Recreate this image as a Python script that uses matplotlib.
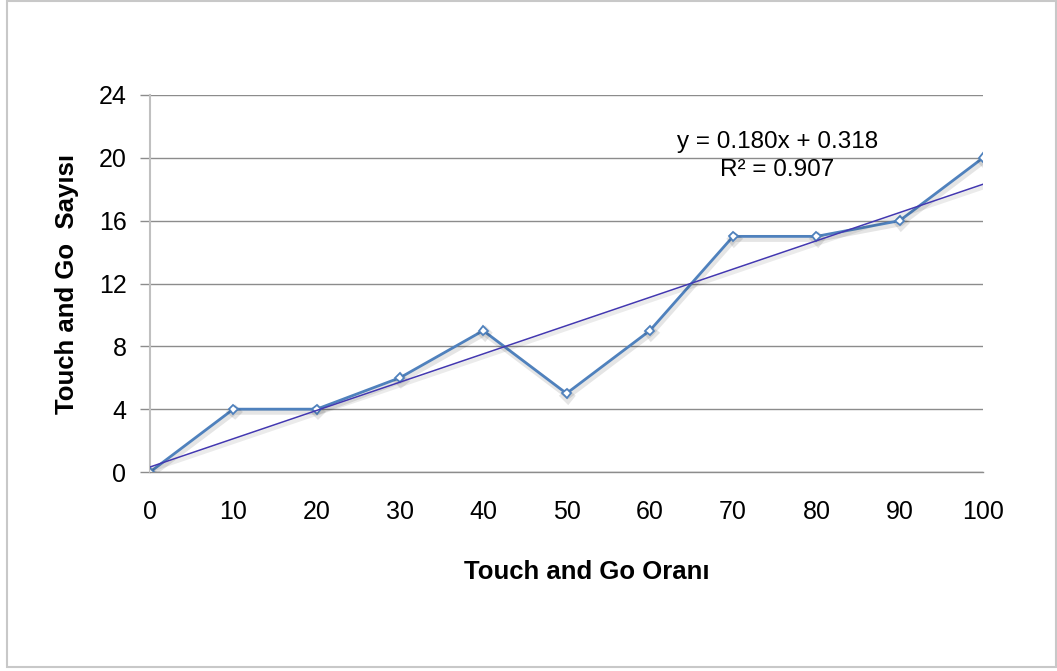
import matplotlib
matplotlib.use("Agg")
import matplotlib.pyplot as plt
import matplotlib.patheffects as pe
from matplotlib.patches import Rectangle
import numpy as np

# Touch-and-go ratio vs. count
ratio = [0, 10, 20, 30, 40, 50, 60, 70, 80, 90, 100]
count = [0, 4, 4, 6, 9, 5, 9, 15, 15, 16, 20]
x_ticks = [0, 10, 20, 30, 40, 50, 60, 70, 80, 90, 100]
y_ticks = [0, 4, 8, 12, 16, 20, 24]

# Linear trend as stated in the equation label
slope = 0.180
intercept = 0.318
r_squared = 0.907

plt.rcParams['font.family'] = ['Liberation Sans', 'DejaVu Sans']

fig = plt.figure(figsize=(10.57, 6.71), dpi=100)
ax = fig.add_axes([150 / 1057, 1 - 472 / 671, 833 / 1057, 377 / 671])

# outer chart frame
fig.patches.append(Rectangle((7 / 1057, 4 / 671), 1049 / 1057, 666 / 671,
                             transform=fig.transFigure, fill=False,
                             edgecolor='#c8c8c8', linewidth=1.5, zorder=0))

soft_shadow = [pe.SimpleLineShadow(offset=(1.0, -2.0), alpha=0.10, linewidth=4), pe.Normal()]

ax.plot(ratio, count, color='#4f81bd', linewidth=2, marker='D', markersize=4.5,
        markerfacecolor='white', markeredgecolor='#4f81bd', markeredgewidth=1.3,
        zorder=3, path_effects=soft_shadow)

xt = np.array([ratio[0], ratio[-1]])
ax.plot(xt, slope * xt + intercept, color='#4338b0', linewidth=1.1, zorder=4,
        path_effects=[pe.SimpleLineShadow(offset=(1.0, -2.0), alpha=0.08, linewidth=3), pe.Normal()])

ax.text(75.3, 21.0, f"y = {slope:.3f}x + {intercept:.3f}", ha='center', va='center', fontsize=17.5)
ax.text(75.3, 19.2, f"R² = {r_squared:.3f}", ha='center', va='center', fontsize=17.5)

ax.set_xlim(0, 100)
ax.set_ylim(0, 24)
ax.set_xticks(x_ticks)
ax.set_yticks(y_ticks)
ax.tick_params(axis='x', length=0, pad=20, labelsize=18)
ax.tick_params(axis='y', length=7, width=1, color='#8c8c8c', pad=10, labelsize=18)
ax.yaxis.grid(True, color='#8c8c8c', linewidth=1)
ax.set_axisbelow(True)
for s in ['top', 'right']:
    ax.spines[s].set_visible(False)
ax.spines['left'].set_color('#c0c0c0')
ax.spines['left'].set_linewidth(1.5)
ax.spines['bottom'].set_color('#8c8c8c')
ax.spines['bottom'].set_linewidth(1)

ax.set_xlabel("Touch and Go Oranı", fontsize=18.5, fontweight='bold', labelpad=28)
ax.xaxis.set_label_coords((587 - 150) / 833, -(572 - 472) / 377, transform=ax.transAxes)
ax.xaxis.label.set_va('center')
ax.set_ylabel("Touch and Go  Sayısı", fontsize=18.5, fontweight='bold')
ax.yaxis.set_label_coords(-(150 - 67) / 833, 0.5, transform=ax.transAxes)
ax.yaxis.label.set_va('center')

fig.savefig("out.png", dpi=100)
